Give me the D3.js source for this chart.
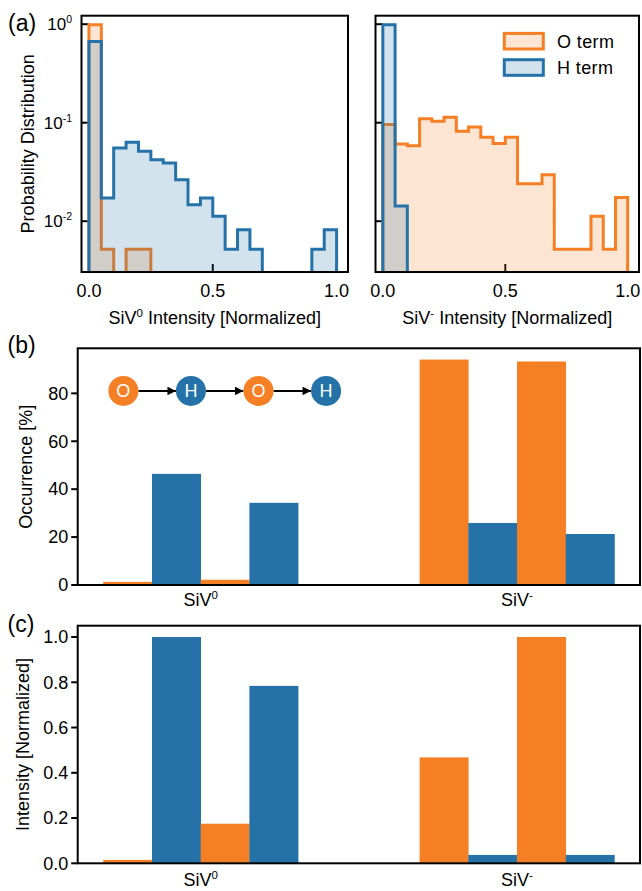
<!DOCTYPE html>
<html>
<head>
<meta charset="utf-8">
<script src="https://cdn.jsdelivr.net/npm/d3@7"></script>
<style>
  html, body { margin: 0; padding: 0; background: #ffffff; }
  svg { display: block; font-family: "Liberation Sans", Arial, Helvetica, sans-serif; }
</style>
</head>
<body>
<svg id="chart" width="642" height="891"></svg>
<script>
// ---------------- DATA ----------------
const binEdges = [0, 0.05, 0.1, 0.15, 0.2, 0.25, 0.3, 0.35, 0.4, 0.45, 0.5,
                  0.55, 0.6, 0.65, 0.7, 0.75, 0.8, 0.85, 0.9, 0.95, 1.0];
// Panel (a) left: SiV0 intensity histograms (probability per bin)
const siv0_O = [0.985, 0.0052, 0, 0.0052, 0.0052, 0, 0, 0, 0, 0,
                0, 0, 0, 0, 0, 0, 0, 0, 0, 0];
const siv0_H = [0.666, 0.0172, 0.0554, 0.0633, 0.0513, 0.0421, 0.039, 0.0264, 0.0147, 0.0172,
                0.0112, 0.0052, 0.0082, 0.0052, 0, 0, 0, 0, 0.0052, 0.0082];
// Panel (a) right: SiV- intensity histograms
const sivm_O = [0.0958, 0.0609, 0.0585, 0.1094, 0.1036, 0.1137, 0.0819, 0.0907, 0.0711, 0.0614,
                0.0711, 0.024, 0.024, 0.0296, 0.0052, 0.0052, 0.0052, 0.0112, 0.0052, 0.0174];
const sivm_H = [0.985, 0.0143, 0, 0, 0, 0, 0, 0, 0, 0,
                0, 0, 0, 0, 0, 0, 0, 0, 0, 0];
const seriesNames = ["O term", "H term"];
const histXTicks = [0, 0.5, 1.0];
const histYTicks = [1, 0.1, 0.01];
const histYTickExp = ["0", "-1", "-2"];

// Panels (b) and (c)
const categories = ["SiV0", "SiV-"];
const chain = ["O", "H", "O", "H"];           // termination sequence = bar order
const occurrence_SiV0 = [1.3, 46.4, 2.2, 34.3];
const occurrence_SiVm = [94.1, 25.9, 93.3, 21.3];
const intensity_SiV0 = [0.015, 1.0, 0.175, 0.784];
const intensity_SiVm = [0.468, 0.037, 1.0, 0.037];
const occTicks = [0, 20, 40, 60, 80];
const intTicks = [0, 0.2, 0.4, 0.6, 0.8, 1.0];

// ---------------- STYLE ----------------
const ORANGE = "#f47f24";
const BLUE = "#2572a9";
const colorOf = t => t === "O" ? ORANGE : BLUE;
const FS = 18;

const svg = d3.select("#chart");
svg.append("rect").attr("width", 642).attr("height", 891).attr("fill", "#fff");

function frame(g, x0, y0, x1, y1) {
  g.append("rect").attr("x", x0).attr("y", y0).attr("width", x1 - x0).attr("height", y1 - y0)
    .attr("fill", "none").attr("stroke", "#000").attr("stroke-width", 2);
}
function supLabel(sel, base, sup, size) {
  sel.append("tspan").text(base);
  sel.append("tspan").attr("dy", -size * 0.42).attr("font-size", size * 0.62).text(sup);
}

// ---------------- PANEL (a) ----------------
const hist = [
  { x0: 81.5, x1: 348, O: siv0_O, H: siv0_H, label: ["SiV", "0", " Intensity [Normalized]"], yLabels: true },
  { x0: 375.5, x1: 639, O: sivm_O, H: sivm_H, label: ["SiV", "-", " Intensity [Normalized]"], yLabels: false }
];
const hTop = 15.7, hBot = 272;
const yLog = d3.scaleLog().domain([0.00305, 1.22]).range([hBot, hTop]);

hist.forEach((p, pi) => {
  const g = svg.append("g");
  const x = d3.scaleLinear().domain([-0.03, 1.046]).range([p.x0, p.x1]);
  const clipId = "clipA" + pi;
  svg.append("clipPath").attr("id", clipId).append("rect")
    .attr("x", p.x0).attr("y", hTop).attr("width", p.x1 - p.x0).attr("height", hBot - hTop);

  // ticks (inward), drawn beneath histograms
  histXTicks.forEach(t => {
    g.append("line").attr("x1", x(t)).attr("x2", x(t)).attr("y1", hBot).attr("y2", hBot - 8)
      .attr("stroke", "#000").attr("stroke-width", 2);
    g.append("text").attr("x", x(t)).attr("y", 296.5).attr("text-anchor", "middle")
      .attr("font-size", FS).text(d3.format(".1f")(t));
  });
  histYTicks.forEach((t, i) => {
    g.append("line").attr("x1", p.x0).attr("x2", p.x0 + 7.5).attr("y1", yLog(t)).attr("y2", yLog(t))
      .attr("stroke", "#000").attr("stroke-width", 2);
    if (p.yLabels) {
      const tx = g.append("text").attr("x", 72).attr("y", yLog(t) + 6).attr("text-anchor", "end")
        .attr("font-size", 17);
      supLabel(tx, "10", histYTickExp[i], 17);
    }
  });

  const bottom = hBot + 30;
  function stepPath(vals) {
    const pts = [[x(binEdges[0]), bottom]];
    vals.forEach((v, i) => {
      const yy = v > 0 ? yLog(v) : bottom;
      pts.push([x(binEdges[i]), yy], [x(binEdges[i + 1]), yy]);
    });
    pts.push([x(binEdges[binEdges.length - 1]), bottom]);
    return "M" + pts.map(d => d.join(",")).join("L") + "Z";
  }
  const hg = g.append("g").attr("clip-path", `url(#${clipId})`);
  [["O", p.O], ["H", p.H]].forEach(([k, vals]) => {
    hg.append("path").attr("d", stepPath(vals))
      .attr("fill", colorOf(k)).attr("fill-opacity", 0.2)
      .attr("stroke", colorOf(k)).attr("stroke-width", 3).attr("stroke-linejoin", "miter");
  });
  frame(g, p.x0, hTop, p.x1, hBot);

  const xl = g.append("text").attr("x", (p.x0 + p.x1) / 2).attr("y", 324)
    .attr("text-anchor", "middle").attr("font-size", FS);
  xl.append("tspan").text(p.label[0]);
  xl.append("tspan").attr("dy", -7).attr("font-size", 11.5).text(p.label[1]);
  xl.append("tspan").attr("dy", 7).text(p.label[2]);

  if (pi === 1) {
    // legend
    seriesNames.forEach((name, i) => {
      const k = i === 0 ? "O" : "H";
      const cy = 41.2 + i * 26.3;
      g.append("rect").attr("x", 504.3).attr("y", cy - 7.8).attr("width", 39).attr("height", 15.6)
        .attr("fill", colorOf(k)).attr("fill-opacity", 0.2)
        .attr("stroke", colorOf(k)).attr("stroke-width", 3);
      g.append("text").attr("x", 557).attr("y", cy + 6.5).attr("font-size", FS)
        .attr("letter-spacing", 0.4).text(name);
    });
  }
});
svg.append("text").attr("transform", `translate(33.5,${(hTop + hBot) / 2}) rotate(-90)`)
  .attr("text-anchor", "middle").attr("font-size", FS).text("Probability Distribution");
svg.append("text").attr("x", 8).attr("y", 30.5).attr("font-size", 23).text("(a)");

// ---------------- PANELS (b) and (c) ----------------
const barW = 0.154;
const bars = [
  { top: 348.3, bot: 585, vals: [occurrence_SiV0, occurrence_SiVm], ticks: occTicks, fmt: d3.format("d"),
    ylab: "Occurrence [%]", ylx: 32, label: "(b)", labelY: 352.5, catY: 606, inset: true },
  { top: 625.7, bot: 863.3, vals: [intensity_SiV0, intensity_SiVm], ticks: intTicks, fmt: d3.format(".1f"),
    ylab: "Intensity [Normalized]", ylx: 28.5, label: "(c)", labelY: 631.5, catY: 886, inset: false }
];
const bx0 = 77.7, bx1 = 640;
const xb = d3.scaleLinear().domain([-2 * barW - 0.05 * (1 + 4 * barW), 1 + 2 * barW + 0.05 * (1 + 4 * barW)])
  .range([bx0, bx1]);

bars.forEach(p => {
  const g = svg.append("g");
  const vmax = d3.max(p.vals.flat());
  const y = d3.scaleLinear().domain([0, vmax * 1.05]).range([p.bot, p.top]);
  categories.forEach((c, ci) => {
    p.vals[ci].forEach((v, i) => {
      const xl = xb(ci + (i - 2) * barW), xr = xb(ci + (i - 1) * barW);
      g.append("rect").attr("x", xl).attr("width", xr - xl + 0.3)
        .attr("y", y(v)).attr("height", y(0) - y(v)).attr("fill", colorOf(chain[i]));
    });
    const t = g.append("text").attr("x", xb(ci)).attr("y", p.catY).attr("text-anchor", "middle")
      .attr("font-size", FS);
    t.append("tspan").text("SiV");
    t.append("tspan").attr("dy", -7).attr("font-size", 11.5).text(c === "SiV0" ? "0" : "-");
  });
  p.ticks.forEach(t => {
    g.append("line").attr("x1", bx0 - 6.5).attr("x2", bx0).attr("y1", y(t)).attr("y2", y(t))
      .attr("stroke", "#000").attr("stroke-width", 2);
    g.append("text").attr("x", bx0 - 9.5).attr("y", y(t) + 6.3).attr("text-anchor", "end")
      .attr("font-size", FS).text(p.fmt(t));
  });
  frame(g, bx0, p.top, bx1, p.bot);
  svg.append("text").attr("transform", `translate(${p.ylx},${(p.top + p.bot) / 2}) rotate(-90)`)
    .attr("text-anchor", "middle").attr("font-size", FS).text(p.ylab);
  svg.append("text").attr("x", 7.5).attr("y", p.labelY).attr("font-size", 23).text(p.label);

  if (p.inset) {
    const fx = d3.scaleLinear().domain([0, 1]).range([bx0, bx1]);
    const fy = d3.scaleLinear().domain([0, 1]).range([p.top, p.bot]);
    const cx = d3.scaleLinear().domain([0, chain.length - 1]).range([fx(0.0812), fx(0.4417)]);
    const cy = fy(0.18);
    const r = 15;
    svg.append("defs").append("marker").attr("id", "arrowHead")
      .attr("viewBox", "0 0 10 10").attr("refX", 10).attr("refY", 5)
      .attr("markerWidth", 9).attr("markerHeight", 8.5).attr("markerUnits", "userSpaceOnUse")
      .attr("orient", "auto")
      .append("path").attr("d", "M0,0L10,5L0,10Z").attr("fill", "#000");
    chain.forEach((k, i) => {
      if (i < chain.length - 1) {
        g.append("line").attr("x1", cx(i) + r).attr("x2", cx(i + 1) - r).attr("y1", cy).attr("y2", cy)
          .attr("stroke", "#000").attr("stroke-width", 2).attr("marker-end", "url(#arrowHead)");
      }
      g.append("circle").attr("cx", cx(i)).attr("cy", cy).attr("r", r).attr("fill", colorOf(k));
      g.append("text").attr("x", cx(i)).attr("y", cy + 6.5).attr("text-anchor", "middle")
        .attr("font-size", FS).attr("fill", "#fff").text(k);
    });
  }
});
</script>
</body>
</html>
